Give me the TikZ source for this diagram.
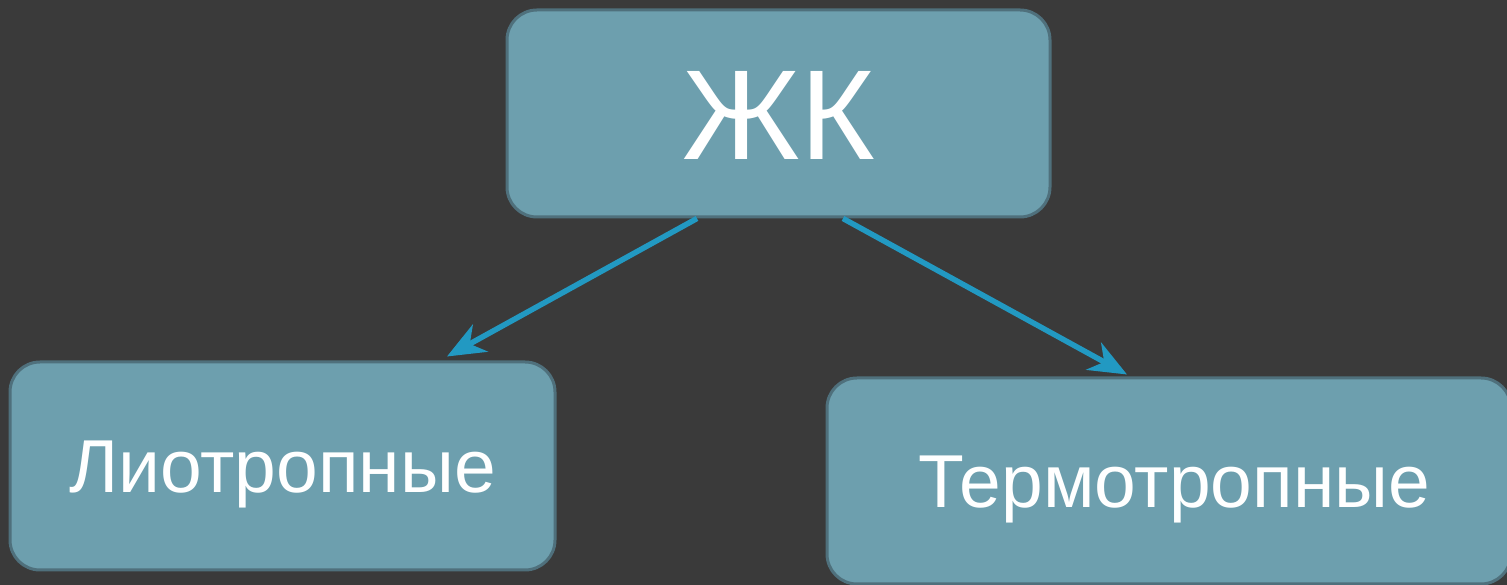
\documentclass[tikz,border=0pt]{standalone}
\usepackage{fontspec}
\setmainfont{Liberation Sans}
\usetikzlibrary{arrows.meta,calc}
\definecolor{bg}{HTML}{3A3A3A}
\definecolor{boxfill}{HTML}{6D9FAE}
\definecolor{boxline}{HTML}{4F707C}
\definecolor{arrowc}{HTML}{2299C2}
\tikzset{
  box/.style={draw=boxline, line width=3pt, fill=boxfill, rounded corners=30pt,
    text=white, inner sep=0pt, text depth=0pt},
  conn/.style={draw=arrowc, line width=5.5pt,
    -{Stealth[length=38pt,width=31pt,inset=12pt]}}
}
\begin{document}
\begin{tikzpicture}[x=1pt,y=1pt]
\fill[bg] (0,0) rectangle (1507,585);
\useasboundingbox (0,0) rectangle (1507,585);
\node[box, minimum width=543pt, minimum height=207pt, font=\fontsize{128}{140}\selectfont, text height=92pt]
  (top) at (778.5,471.5) {ЖК};
\node[box, minimum width=545pt, minimum height=208pt, font=\fontsize{75}{90}\selectfont, text height=54pt]
  (left) at (282.5,119) {Лиотропные};
\node[box, minimum width=684pt, minimum height=206pt, font=\fontsize{75}{90}\selectfont, text height=54pt, text width=502pt, align=right]
  (right) at (1169,104) {Термотропные};
\draw[conn] ($(top.south)+(-81.5,0)$) -- ($(left.north)+(164.5,4)$);
\draw[conn] ($(top.south)+(64.5,0)$) -- ($(right.north)+(-42,2)$);
\end{tikzpicture}
\end{document}
